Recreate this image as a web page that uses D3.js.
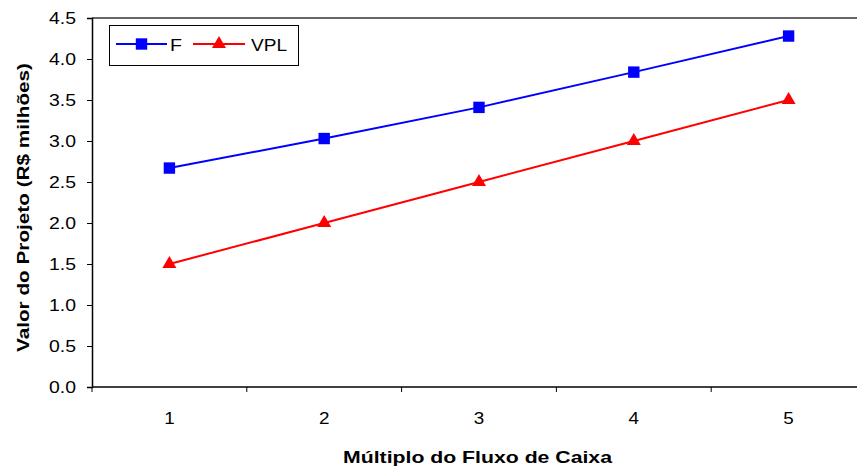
<!DOCTYPE html>
<html>
<head>
<meta charset="utf-8">
<script src="https://cdn.jsdelivr.net/npm/d3@7"></script>
<style>
  html, body { margin: 0; padding: 0; background: #fff; }
  svg { display: block; font-family: "Liberation Sans", Arial, sans-serif; }
</style>
</head>
<body>
<svg id="chart" width="857" height="470"></svg>
<script>
// Cash-flow multiple vs. project value (R$ millions)
const categories = [1, 2, 3, 4, 5];
const seriesF = [2.67, 3.03, 3.41, 3.84, 4.28];
const seriesVPL = [1.5, 2.0, 2.5, 3.0, 3.5];
const yTicks = [0.0, 0.5, 1.0, 1.5, 2.0, 2.5, 3.0, 3.5, 4.0, 4.5];

const svg = d3.select("#chart");
const plotLeft = 92, plotTop = 18, plotBottom = 387, plotRight = 866;
const FONT = "'Liberation Sans', Arial, sans-serif";

const x = d3.scaleBand().domain(categories).range([plotLeft, plotRight]);
const y = d3.scaleLinear().domain([0, 4.5]).range([plotBottom, plotTop]);

// frame top line
svg.append("line")
  .attr("x1", plotLeft).attr("x2", 857).attr("y1", plotTop).attr("y2", plotTop)
  .attr("stroke", "#333").attr("stroke-width", 1.5);

// y axis
const yAxis = d3.axisLeft(y).tickValues(yTicks).tickFormat(d3.format(".1f")).tickSize(5).tickPadding(11);
const gy = svg.append("g").attr("transform", `translate(${plotLeft},0)`).call(yAxis);
gy.select(".domain").attr("stroke", "#000").attr("stroke-width", 1.5);
gy.selectAll(".tick line").attr("stroke", "#000");
gy.selectAll(".tick text").attr("font-size", 16.5).attr("fill", "#000")
  .attr("font-family", FONT)
  .attr("textLength", 27).attr("lengthAdjust", "spacingAndGlyphs");

// x axis: ticks at category boundaries, labels at centers
const gx = svg.append("g").attr("transform", `translate(0,${plotBottom})`);
gx.append("line").attr("x1", plotLeft).attr("x2", 857).attr("y1", 0).attr("y2", 0)
  .attr("stroke", "#000").attr("stroke-width", 1.5);
const bounds = categories.map(c => x(c)).concat([x(categories[categories.length - 1]) + x.bandwidth()]);
gx.selectAll("line.tk").data(bounds).join("line").attr("class", "tk")
  .attr("x1", d => d).attr("x2", d => d).attr("y1", 0).attr("y2", 5)
  .attr("stroke", "#000");
gx.selectAll("text").data(categories).join("text")
  .attr("x", d => x(d) + x.bandwidth() / 2).attr("y", 37)
  .attr("text-anchor", "middle").attr("font-size", 17).attr("fill", "#000")
  .attr("textLength", 10.5).attr("lengthAdjust", "spacingAndGlyphs")
  .text(d => d);

// axis titles
svg.append("text")
  .attr("x", 477.5).attr("y", 463).attr("text-anchor", "middle")
  .attr("font-size", 17).attr("font-weight", "bold")
  .attr("textLength", 269).attr("lengthAdjust", "spacingAndGlyphs")
  .text("Múltiplo do Fluxo de Caixa");
svg.append("text")
  .attr("transform", "translate(29,207.5) rotate(-90)").attr("text-anchor", "middle")
  .attr("font-size", 17).attr("font-weight", "bold")
  .attr("textLength", 289).attr("lengthAdjust", "spacingAndGlyphs")
  .text("Valor do Projeto (R$ milhões)");

const cx = d => x(d) + x.bandwidth() / 2;
const line = d3.line().x((d, i) => cx(categories[i])).y(d => y(d));

// F series
svg.append("path").datum(seriesF).attr("d", line)
  .attr("fill", "none").attr("stroke", "#0000ff").attr("stroke-width", 2);
svg.selectAll("path.sq").data(seriesF).join("path").attr("class", "sq")
  .attr("d", d3.symbol(d3.symbolSquare, 130))
  .attr("transform", (d, i) => `translate(${cx(categories[i])},${y(d)})`)
  .attr("fill", "#0000ff");

// VPL series
svg.append("path").datum(seriesVPL).attr("d", line)
  .attr("fill", "none").attr("stroke", "#ff0000").attr("stroke-width", 2);
svg.selectAll("path.tri").data(seriesVPL).join("path").attr("class", "tri")
  .attr("d", d3.symbol(d3.symbolTriangle, 85))
  .attr("transform", (d, i) => `translate(${cx(categories[i])},${y(d)})`)
  .attr("fill", "#ff0000");

// legend
const lg = svg.append("g");
lg.append("rect").attr("x", 109.5).attr("y", 25.5).attr("width", 189).attr("height", 40)
  .attr("fill", "#fff").attr("stroke", "#000").attr("stroke-width", 1);
const items = [
  { name: "F", color: "#0000ff", sym: d3.symbolSquare, size: 130, x0: 116, x1: 167, tx: 170, tw: 12 },
  { name: "VPL", color: "#ff0000", sym: d3.symbolTriangle, size: 85, x0: 193, x1: 245, tx: 251, tw: 36 }
];
items.forEach(it => {
  lg.append("line").attr("x1", it.x0).attr("x2", it.x1).attr("y1", 44).attr("y2", 44)
    .attr("stroke", it.color).attr("stroke-width", 2);
  lg.append("path").attr("d", d3.symbol(it.sym, it.size))
    .attr("transform", `translate(${(it.x0 + it.x1) / 2},44)`).attr("fill", it.color);
  lg.append("text").attr("x", it.tx).attr("y", 51).attr("font-size", 17).attr("fill", "#000")
    .attr("textLength", it.tw).attr("lengthAdjust", "spacingAndGlyphs")
    .text(it.name);
});
</script>
</body>
</html>
